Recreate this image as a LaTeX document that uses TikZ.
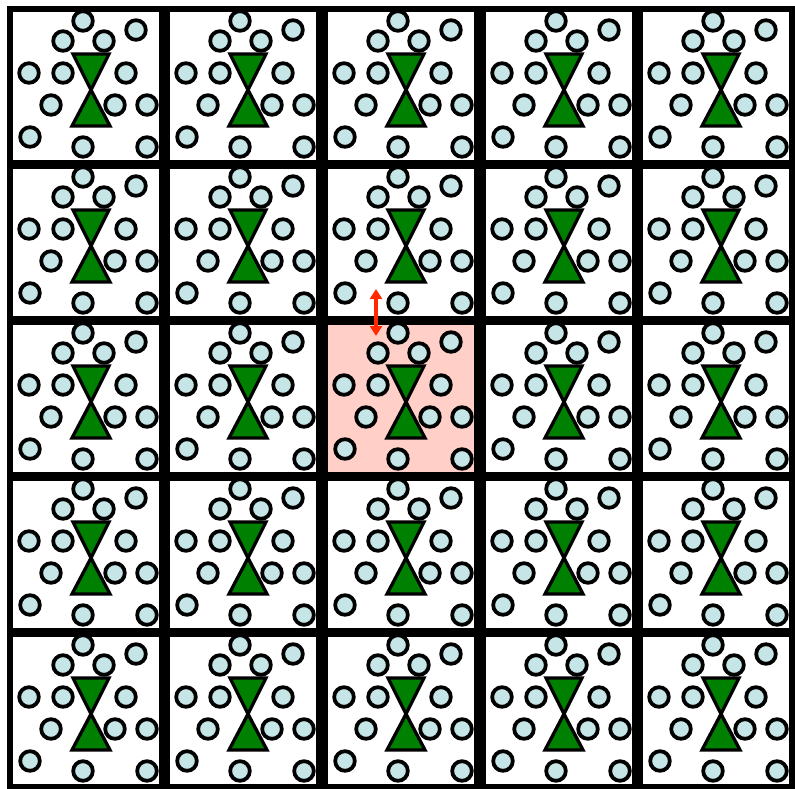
\documentclass[tikz,border=0pt]{standalone}
\usetikzlibrary{arrows.meta}
\definecolor{bubble}{HTML}{C6E5E6}
\definecolor{hgreen}{HTML}{008000}
\definecolor{pinkbg}{HTML}{FFCFC8}
\definecolor{redarrow}{HTML}{FF2A00}
\tikzset{
  cellframe/.style={draw=black, line width=6pt, line join=miter},
  bubblestyle/.style={draw=black, fill=bubble, line width=3.8pt},
  glass/.style={draw=black, fill=hgreen, line width=3.3pt, line join=miter},
  arrowstyle/.style={draw=redarrow, line width=3.5pt,
    {Triangle[width=12pt,length=10pt]}-{Triangle[width=12pt,length=10pt]}},
  pics/cellpic/.style={code={
    \draw[cellframe] (9.5,9.5) rectangle (162,163);
    \foreach \cx/\cy in {83/21,136/30,63/41,104/41,29/73,63/73,126/73,51/105,115/105,147/105,30/137,83/147,147/147}
      \draw[bubblestyle] (\cx,\cy) circle[radius=9.8];
    \draw[glass] (73,54) -- (109,54) -- (91,90) -- cycle;
    \draw[glass] (91,90) -- (110,126) -- (72,126) -- cycle;
  }}
}
\begin{document}
\begin{tikzpicture}[x=1pt,y=-1pt]
\fill[white] (0,0) rectangle (795,789);
\useasboundingbox (0,0) rectangle (795,789);
\fill[pinkbg] (324.5,321.5) rectangle (477,475);
\foreach \dy in {0,156,312,468,624}{
  \foreach \dx in {0,157,315,473,630}{
    \pic at (\dx,\dy) {cellpic};
  }
}
\coordinate (atop) at (376,289);
\coordinate (abot) at (376,336);
\draw[arrowstyle] (atop) -- (abot);
\end{tikzpicture}
\end{document}
